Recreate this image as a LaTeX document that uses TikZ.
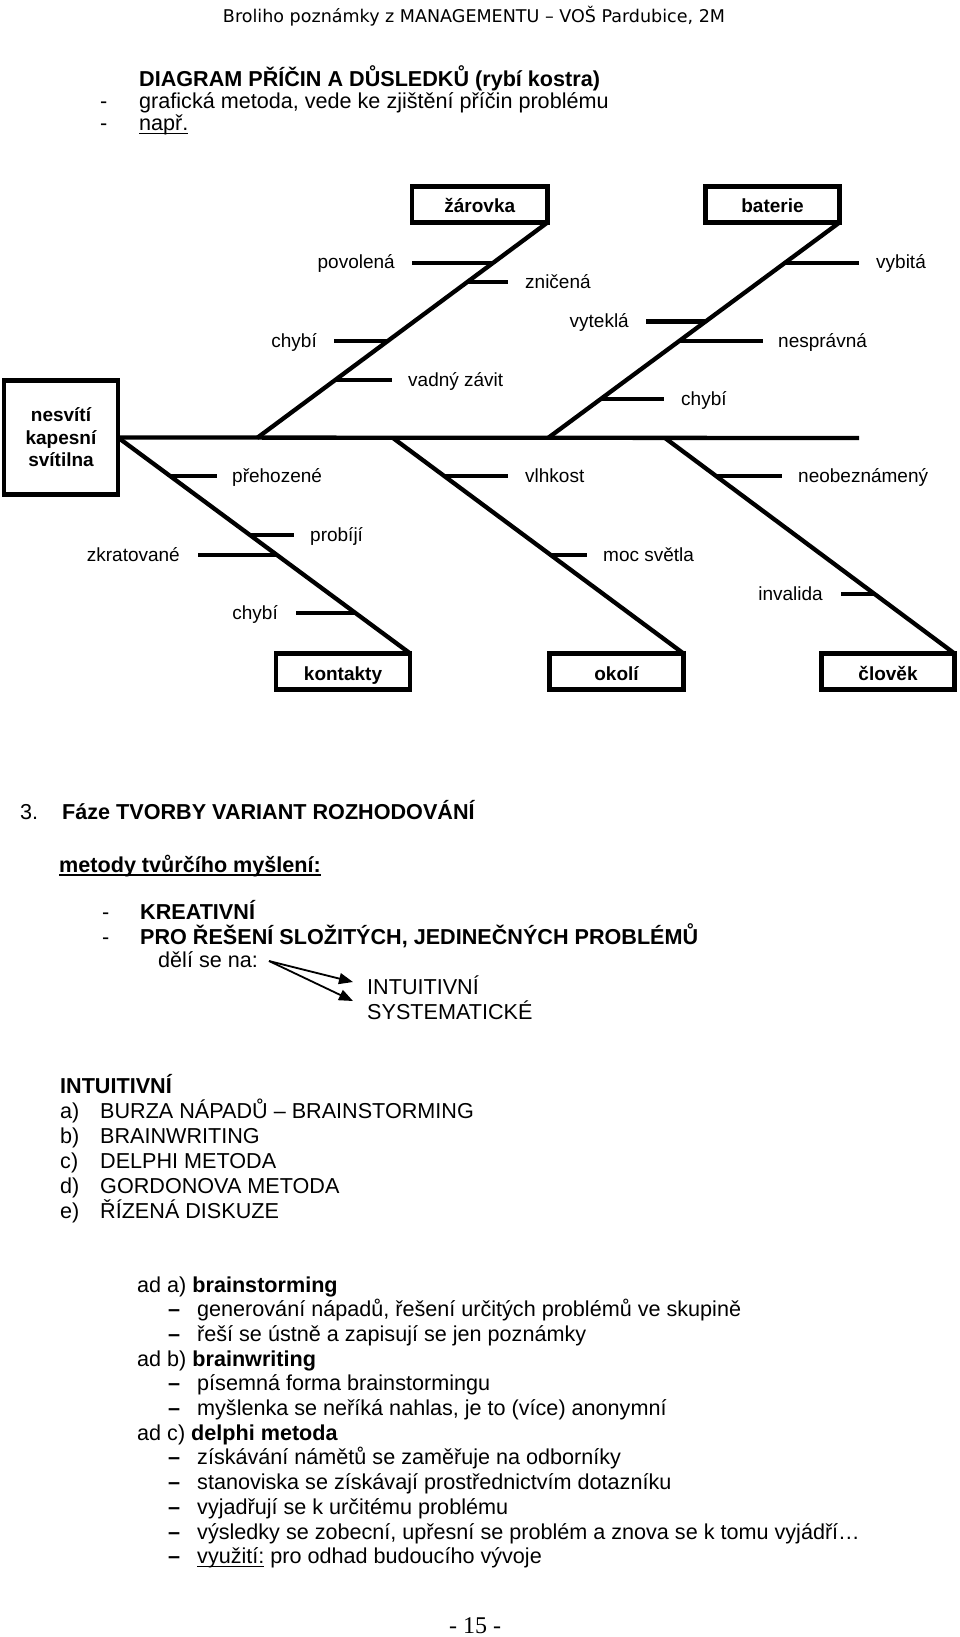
\documentclass[tikz,border=0pt]{standalone}
\usepackage{graphicx}
\usepackage{fontspec}
\setmainfont{Liberation Sans}
\newfontfamily\hdrfont{DejaVu Sans}
\newfontfamily\pgnumfont{Liberation Serif}
\usetikzlibrary{arrows.meta}
\newcommand\ulx[3]{\setbox0\hbox{#3}\rlap{\rule[-#1]{\wd0}{#2}}\box0\relax}
\begin{document}
\begin{tikzpicture}[x=1pt,y=-1pt,
  bone/.style={line width=4.3pt, line cap=butt},
  boxbase/.style={draw, line width=4.3pt, inner sep=0pt, outer sep=0pt, minimum height=36pt, font=\fontsize{19}{22.5}\selectfont\bfseries},
  catbox/.style={boxbase, text height=17pt, text depth=0pt},
  lbl/.style={inner sep=0pt, font=\fontsize{19}{22}\selectfont, text height=12pt, text depth=0pt},
  body/.style={inner sep=0pt, anchor=base west, font=\fontsize{21.6}{25}\selectfont},
  darrow/.style={line width=1.8pt, -{Triangle[length=14pt,width=11pt]}}
]
\fill[white] (0,0) rectangle (960,1637);
\useasboundingbox (0,0) rectangle (960,1637);

% header
\node[inner sep=0pt, anchor=base] (hdr) at (474,23) {\resizebox{502pt}{!}{\hdrfont Broliho poznámky z MANAGEMENTU – VOŠ Pardubice, 2M}};

% intro
\node[body] (title) at (139,87) {\bfseries DIAGRAM PŘÍČIN A DŮSLEDKŮ (rybí kostra)};
\node[body] (h1) at (100,108.5) {-};
\node[body] (t1) at (139,108.5) {grafická metoda, vede ke zjištění příčin problému};
\node[body] (h2) at (100,131) {-};
\node[body] (t2) at (139,131) {\ulx{3.5pt}{1.5pt}{např.}};

% fishbone boxes
\node[catbox, minimum width=135.5pt] (zarovka) at (479.75,204.5) {žárovka};
\node[catbox, minimum width=134pt] (baterie) at (772.5,204.5) {baterie};
\node[boxbase, minimum width=114pt, minimum height=114pt, align=center] (nesviti) at (61,437.5) {nesvítí\\kapesní\\svítilna};
\node[catbox, minimum width=134.5pt] (kontakty) at (343,671.5) {kontakty};
\node[catbox, minimum width=134pt] (okoli) at (616.5,671.5) {okolí};
\node[catbox, minimum width=133pt] (clovek) at (888,671.5) {člověk};

% spine and bones
\coordinate (spineend) at (859,438);
\coordinate (zb) at (257,438);
\coordinate (bb) at (548,438);
\coordinate (ob) at (393,438);
\coordinate (cb) at (665,438);
\draw[bone] (nesviti.east) -- (spineend);
\draw[bone] (zb) -- (zarovka.south east);
\draw[bone] (bb) -- (baterie.south east);
\draw[bone] (nesviti.east) -- (kontakty.north east);
\draw[bone] (ob) -- (okoli.north east);
\draw[bone] (cb) -- (clovek.north east);

% ticks
\draw[bone] (412,263) -- (493,263);
\draw[bone] (467,282) -- (508,282);
\draw[bone] (334,341) -- (388,341);
\draw[bone] (335,380) -- (392,380);
\draw[bone] (784.7,263) -- (859,263);
\draw[bone] (646,321.5) -- (705,321.5);
\draw[bone] (679,341) -- (763,341);
\draw[bone] (601,399) -- (664,399);
\draw[bone] (169.6,476) -- (217,476);
\draw[bone] (444,476) -- (508,476);
\draw[bone] (716,476) -- (782,476);
\draw[bone] (249.6,535) -- (294,535);
\draw[bone] (198,555) -- (276.8,555);
\draw[bone] (550.7,555) -- (587,555);
\draw[bone] (296,613) -- (355.5,613);
\draw[bone] (841,594) -- (874.6,594);

% labels
\node[lbl, anchor=east] (lpovolena) at (395,263) {povolená};
\node[lbl, anchor=west] (lznicena) at (525,282) {zničená};
\node[lbl, anchor=east] (lchybi1) at (317,341) {chybí};
\node[lbl, anchor=west] (lvadny) at (408,380) {vadný závit};
\node[lbl, anchor=west] (lvybita) at (876,263) {vybitá};
\node[lbl, anchor=east] (lvytekla) at (629,321.5) {vyteklá};
\node[lbl, anchor=west] (lnespravna) at (778,341) {nesprávná};
\node[lbl, anchor=west] (lchybi2) at (681,399) {chybí};
\node[lbl, anchor=west] (lprehozene) at (232,476) {přehozené};
\node[lbl, anchor=west] (lvlhkost) at (525,476) {vlhkost};
\node[lbl, anchor=west] (lneob) at (798,476) {neobeznámený};
\node[lbl, anchor=west] (lprobiji) at (310,535) {probíjí};
\node[lbl, anchor=east] (lzkrat) at (180,555) {zkratované};
\node[lbl, anchor=west] (lmoc) at (603,555) {moc světla};
\node[lbl, anchor=east] (lchybi3) at (278,613) {chybí};
\node[lbl, anchor=east] (linvalida) at (823,594) {invalida};

% section 3
\node[body] (n3) at (20,819) {3.};
\node[body] (faze) at (62,819) {\bfseries Fáze TVORBY VARIANT ROZHODOVÁNÍ};
\node[body] (metody) at (59,872) {\bfseries\ulx{4pt}{2pt}{metody tvůrčího myšlení:}};
\node[body] (k1) at (102,919) {-};
\node[body] (kreat) at (140,919) {\bfseries KREATIVNÍ};
\node[body] (k2) at (102,944) {-};
\node[body] (pro) at (140,944) {\bfseries PRO ŘEŠENÍ SLOŽITÝCH, JEDINEČNÝCH PROBLÉMŮ};
\node[body] (deli) at (158,967) {dělí se na:};
\node[body] (intu) at (367,994) {INTUITIVNÍ};
\node[body] (syst) at (367,1019) {SYSTEMATICKÉ};
\coordinate (split) at (269,961);
\coordinate (tipA) at (353,982);
\coordinate (tipB) at (353,1001);
\draw[darrow] (split) -- (tipA);
\draw[darrow] (split) -- (tipB);

% intuitive list
\node[body] (ih) at (60,1093) {\bfseries INTUITIVNÍ};
\node[body] (la) at (60,1118) {a)};
\node[body] (ta) at (100,1118) {BURZA NÁPADŮ – BRAINSTORMING};
\node[body] (lb) at (60,1143) {b)};
\node[body] (tb) at (100,1143) {BRAINWRITING};
\node[body] (lc) at (60,1168) {c)};
\node[body] (tc) at (100,1168) {DELPHI METODA};
\node[body] (ld) at (60,1193) {d)};
\node[body] (td) at (100,1193) {GORDONOVA METODA};
\node[body] (le) at (60,1218) {e)};
\node[body] (te) at (100,1218) {ŘÍZENÁ DISKUZE};

% ad a/b/c
\node[body] (ada) at (137,1292) {ad a) \textbf{brainstorming}};
\node[body] (da1) at (168,1316.7) {\bfseries –};
\node[body] (ta1) at (197,1316.7) {generování nápadů, řešení určitých problémů ve skupině};
\node[body] (da2) at (168,1341.4) {\bfseries –};
\node[body] (ta2) at (197,1341.4) {řeší se ústně a zapisují se jen poznámky};
\node[body] (adb) at (137,1366.1) {ad b) \textbf{brainwriting}};
\node[body] (db1) at (168,1390.8) {\bfseries –};
\node[body] (tb1) at (197,1390.8) {písemná forma brainstormingu};
\node[body] (db2) at (168,1415.5) {\bfseries –};
\node[body] (tb2) at (197,1415.5) {myšlenka se neříká nahlas, je to (více) anonymní};
\node[body] (adc) at (137,1440.2) {ad c) \textbf{delphi metoda}};
\node[body] (dc1) at (168,1464.9) {\bfseries –};
\node[body] (tc1) at (197,1464.9) {získávání námětů se zaměřuje na odborníky};
\node[body] (dc2) at (168,1489.6) {\bfseries –};
\node[body] (tc2) at (197,1489.6) {stanoviska se získávají prostřednictvím dotazníku};
\node[body] (dc3) at (168,1514.3) {\bfseries –};
\node[body] (tc3) at (197,1514.3) {vyjadřují se k určitému problému};
\node[body] (dc4) at (168,1539) {\bfseries –};
\node[body] (tc4) at (197,1539) {výsledky se zobecní, upřesní se problém a znova se k tomu vyjádří…};
\node[body] (dc5) at (168,1563.7) {\bfseries –};
\node[body] (tc5) at (197,1563.7) {\ulx{3.5pt}{1.5pt}{využití:} pro odhad budoucího vývoje};

% page number
\node[inner sep=0pt, anchor=base, font=\pgnumfont\fontsize{24}{24}\selectfont] (pg) at (475,1633) {- 15 -};
\end{tikzpicture}
\end{document}
